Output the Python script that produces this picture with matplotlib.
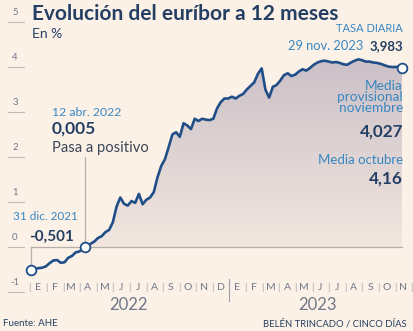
import numpy as np
import pandas as pd
import matplotlib.pyplot as plt
from matplotlib.patches import Polygon
from matplotlib.colors import LinearSegmentedColormap

plt.rcParams['font.family'] = ['Lato', 'DejaVu Sans']

# Euríbor a 12 meses, weekly readings from 31 dic. 2021 to 29 nov. 2023
start = pd.Timestamp('2021-12-31')
dates = list(pd.date_range(start, periods=100, freq='7D')) + [pd.Timestamp('2023-11-29')]
euribor = [
    -0.501, -0.49, -0.47, -0.46, -0.43, -0.36, -0.30, -0.29, -0.35, -0.34,
    -0.24, -0.20, -0.12, -0.10, -0.04, 0.03, 0.07, 0.12, 0.20, 0.24,
    0.33, 0.38, 0.55, 0.90, 1.10, 0.96, 0.92, 1.02, 0.98, 1.18,
    0.95, 1.05, 1.10, 1.22, 1.55, 1.80, 1.95, 2.22, 2.50, 2.55,
    2.45, 2.75, 2.70, 2.62, 2.85, 2.80, 2.85, 2.83, 2.82, 2.85,
    3.08, 3.22, 3.30, 3.30, 3.34, 3.30, 3.36, 3.40, 3.50, 3.58,
    3.66, 3.85, 3.97, 3.50, 3.32, 3.56, 3.60, 3.70, 3.82, 3.86,
    3.80, 3.83, 3.90, 3.95, 3.92, 3.98, 4.05, 4.10, 4.13, 4.14,
    4.12, 4.10, 4.11, 4.09, 4.06, 4.05, 4.10, 4.14, 4.17, 4.15,
    4.12, 4.12, 4.10, 4.09, 4.07, 4.04, 4.01, 4.00, 4.00, 4.01,
    3.983,
]

# highlighted points
mark_dates = [pd.Timestamp('2021-12-31'), pd.Timestamp('2022-04-12'), pd.Timestamp('2023-11-29')]
mark_vals = [-0.501, 0.005, 3.983]

months = ['E', 'F', 'M', 'A', 'M', 'J', 'J', 'A', 'S', 'O', 'N', 'D',
          'E', 'F', 'M', 'A', 'M', 'J', 'J', 'A', 'S', 'O', 'N']
years = ['2022', '2023']
yticks = [-1, 0, 1, 2, 3, 4, 5]

bg = '#fcf1e7'
navy = '#1f4e88'
blue = '#3787c2'
dark = '#243f63'
grey = '#6f7788'
rule = '#c4bbb3'

W, H = 414, 331
fig = plt.figure(figsize=(W / 100, H / 100), dpi=100, facecolor=bg)
ax = fig.add_axes([0, 0, 1, 1])
ax.set_facecolor(bg)
ax.axis('off')

x = np.array([(d - start).days for d in dates])
y = np.array(euribor)
mx = np.array([(d - start).days for d in mark_dates])

# gradient area under the curve
poly = Polygon([(x[0], 0)] + list(zip(x, y)) + [(x[-1], 0)], closed=True,
               facecolor='none', edgecolor='none')
ax.add_patch(poly)
cmap = LinearSegmentedColormap.from_list('fill', ['#f2e6df', '#cbc0c7'])
im = ax.imshow(np.linspace(0, 1, 256).reshape(-1, 1), extent=[x[0], x[-1], 0, 4.2],
               origin='lower', cmap=cmap, aspect='auto', zorder=1)
im.set_clip_path(poly)

# pixel mapping: day 0 -> px 31, day 698 -> px 402; value 0 -> px 247, 45 px per point
k = 371 / 698
ax.set_xlim(-31 / k, (W - 31) / k)
ax.set_ylim(-(H - 247) / 45, 247 / 45)

# left tick marks and labels
for t in yticks:
    ax.plot([-23 / k, -7 / k], [t, t], color=rule, lw=0.8, zorder=2)
    ax.text(-16 / k, t + 0.22, str(t), ha='center', va='center', fontsize=6.8, color=grey)

ax.plot([x[0], x[-1]], [0, 0], color='#b8afa8', lw=0.9, zorder=2)
ax.plot([mx[0], mx[0]], [mark_vals[0], 0], color='#b8afa8', lw=0.9, zorder=2)
ax.plot([mx[1], mx[1]], [0, 2.0], color='#b8afa8', lw=0.9, zorder=2)

ax.plot(x, y, color=navy, lw=1.9, zorder=3, solid_joinstyle='round')
ax.plot(mx, mark_vals, 'o', ms=7, mfc='white', mec=navy, mew=1.3, zorder=4)


def ft(px, py, s, **kw):
    fig.text(px / W, 1 - py / H, s, **kw)


ft(32, 14, 'Evolución del euríbor a 12 meses', fontsize=15, fontweight='bold', color=dark, va='center')
ft(32, 34, 'En %', fontsize=10, color=dark, va='center')

ft(403, 28, 'TASA DIARIA', fontsize=8, color=blue, ha='right', va='center')
ft(363, 46, '29 nov. 2023', fontsize=9.3, color=blue, ha='right', va='center')
ft(403, 46, '3,983', fontsize=9.5, fontweight='bold', color=dark, ha='right', va='center')
ft(403, 97, 'Media\nprovisional\nnoviembre', fontsize=9.8, color=blue, ha='right', va='center',
   linespacing=0.95)
ft(403, 132, '4,027', fontsize=12.3, fontweight='bold', color=dark, ha='right', va='center')
ft(403, 160, 'Media octubre', fontsize=9.5, color=blue, ha='right', va='center')
ft(403, 179, '4,16', fontsize=12.3, fontweight='bold', color=dark, ha='right', va='center')

ft(52, 112, '12 abr. 2022', fontsize=8.8, color=blue, va='center')
ft(52, 129, '0,005', fontsize=12.5, fontweight='bold', color=dark, va='center')
ft(52, 148, 'Pasa a positivo', fontsize=10.6, color='#3a4656', va='center')

ft(13, 217, '31 dic. 2021', fontsize=8.5, color=blue, va='center')
ft(29, 237, '-0,501', fontsize=11, fontweight='bold', color=dark, va='center')

# month row
step = 16.6
for i, m in enumerate(months):
    cx = 38 + i * step
    ft(cx, 287, m, fontsize=7.5, color=grey, ha='center', va='center')
    if i != 12:
        ft(cx - step / 2, 287, '|', fontsize=7, color='#9aa0aa', ha='center', va='center')
ft(38 + 22.5 * step, 287, '|', fontsize=7, color='#9aa0aa', ha='center', va='center')
sep = 38 + 11.5 * step
fig.add_artist(plt.Line2D([sep / W, sep / W], [1 - 279 / H, 1 - 301 / H], color='#9aa0aa', lw=0.8))
ft(128, 305, years[0], fontsize=12, color=grey, ha='center', va='center')
ft(317, 305, years[1], fontsize=12, color=grey, ha='center', va='center')

ft(3, 324, 'Fuente: AHE', fontsize=7, color=dark, va='center')
ft(407, 324, 'BELÉN TRINCADO / CINCO DÍAS', fontsize=6.8, color=dark, ha='right', va='center')

fig.savefig('out.png', dpi=100, facecolor=bg)
